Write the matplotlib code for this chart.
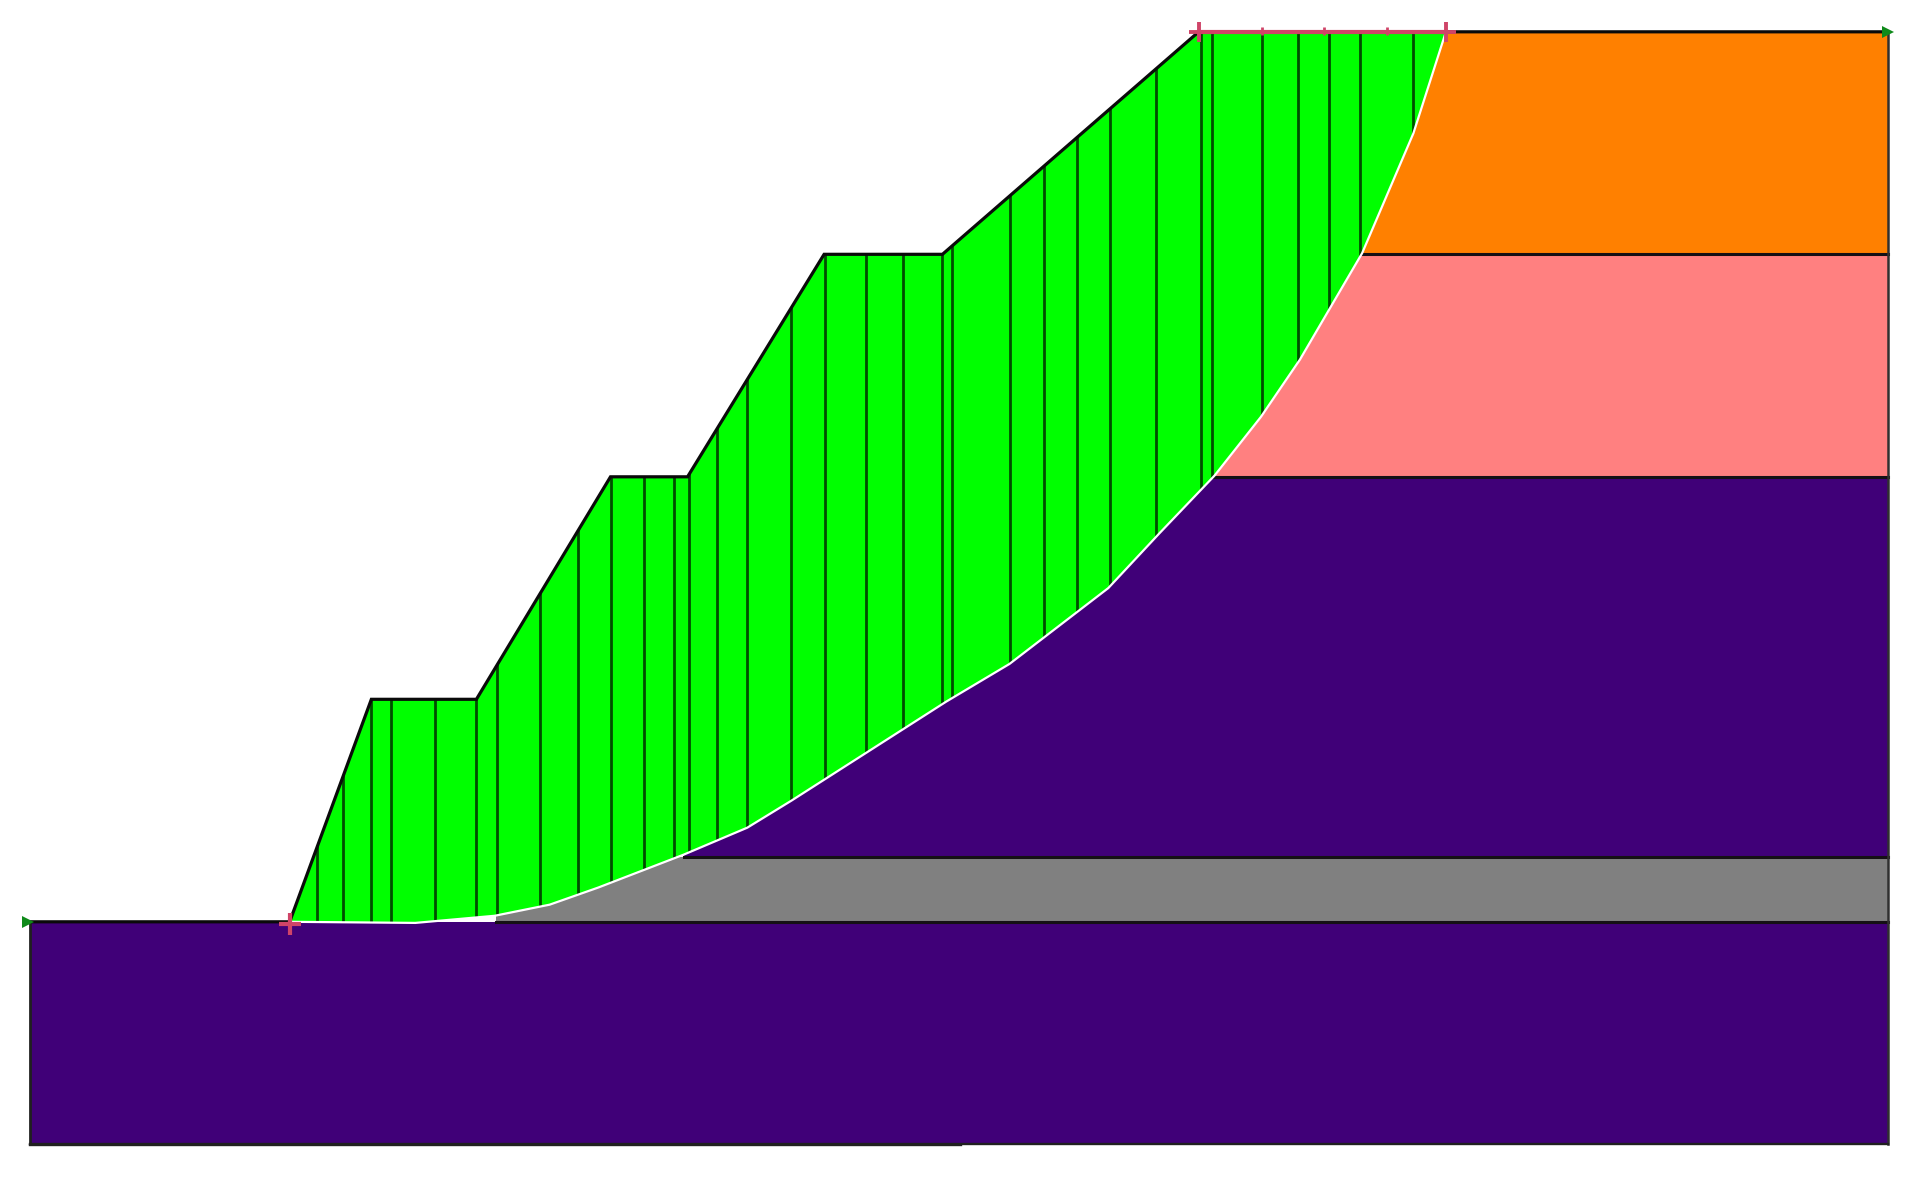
#!/usr/bin/env python3
import numpy as np
from matplotlib import pyplot as plt

# slope section, distance and elevation in metres
ground_x = [0, 11.70, 15.38, 20.11, 26.15, 29.62, 35.77, 41.10, 52.64, 83.68]
ground_y = [0, 0, 10, 10, 20, 20, 30, 30, 40, 40]

slip_x = [11.70, 17.36, 20.93, 23.41, 25.60, 29.45, 32.31, 34.29, 41.26, 44.12,
          48.57, 50.88, 53.35, 55.44, 57.20, 60.00, 62.31, 63.79]
slip_y = [0, -0.05, 0.27, 0.77, 1.54, 3.02, 4.23, 5.44, 9.89, 11.59,
          15.00, 17.47, 20.05, 22.69, 25.27, 30.05, 35.44, 40.05]

slice_x = [12.91, 14.12, 15.38, 16.26, 18.24, 20.11, 21.04, 22.97, 24.67, 26.15, 27.64,
           29.01, 29.67, 30.93, 32.31, 34.29, 35.82, 37.64, 39.34, 41.10, 41.54, 44.12,
           45.66, 47.14, 48.63, 50.71, 52.75, 53.24, 55.49, 57.09, 58.52, 59.89, 62.31]

layer_bottom = [-10, 0, 2.91, 20, 30]
layer_top = [0, 2.91, 20, 30, 40]
layer_left = [0, 21, 29.45, 53.35, 60]
layer_color = ["#400078", "#808080", "#400078", "#ff8080", "#ff8000"]

right_edge = 83.68
bottom_step_x = 41.92
entry_x = [52.64, 63.79]
entry_ticks = [55.49, 58.30, 61.10]
toe_x = 11.70


def main() -> None:
    fig = plt.figure(figsize=(19.13, 11.77), dpi=100)
    ax = fig.add_axes([0, 0, 1, 1])
    ax.set_xlim(-1.345, 84.81)
    ax.set_ylim(-11.47, 41.43)
    ax.axis("off")

    for bottom, top, left, color in zip(layer_bottom, layer_top, layer_left, layer_color):
        ax.barh(bottom, right_edge - left, height=top - bottom, left=left, align="edge",
                color=color, linewidth=0, zorder=1)

    # layer tops, behind the sliding mass
    for top, left in zip(layer_top[:-1], layer_left[1:]):
        ax.plot([left, right_edge], [top, top], color="#151015", lw=2.2, zorder=2)
    ax.plot([right_edge, right_edge], [-10, 40], color="#303030", lw=1.8, zorder=2)
    ax.plot([0, 0], [-10, 0], color="#202020", lw=2.0, zorder=2)
    ax.plot([0, right_edge], [-10, -10], color="#202020", lw=1.7, zorder=2)
    ax.plot([0, bottom_step_x], [-10.05, -10.05], color="#202020", lw=1.7, zorder=2)

    mass_x = np.concatenate([ground_x[1:-1], [slip_x[-1]], slip_x[::-1]])
    mass_y = np.concatenate([ground_y[1:-1], [40], slip_y[::-1]])
    mass = ax.fill(mass_x, mass_y, color="#00ff00", linewidth=0, zorder=3)[0]

    slices = ax.vlines(slice_x, -1, 41, color="#004d00", lw=2.0, zorder=4)
    slices.set_clip_path(mass)

    ax.plot(ground_x, ground_y, color="#0a0a0a", lw=2.3, zorder=5, solid_joinstyle="miter")
    ax.plot(slip_x, slip_y, color="white", lw=1.6, zorder=6)

    # search limits on the crest and at the toe
    red = "#cf4468"
    ax.plot(entry_x, [40, 40], color=red, lw=3.0, zorder=7)
    ax.plot(entry_x, [40, 40], "+", color=red, ms=15, mew=2.8, zorder=7)
    ax.plot(entry_ticks, [40.05] * 3, "|", color=red, ms=6, mew=2.0, zorder=7)
    ax.plot([toe_x], [-0.1], "+", color=red, ms=16, mew=3.0, zorder=7)

    green = "#0f8a1a"
    ax.plot([-0.1], [0], marker=">", color=green, ms=8, mew=0, zorder=7)
    ax.plot([right_edge], [40], marker=">", color=green, ms=8, mew=0, zorder=7)

    fig.savefig("out.png", dpi=100)
    plt.close(fig)


if __name__ == "__main__":
    main()
